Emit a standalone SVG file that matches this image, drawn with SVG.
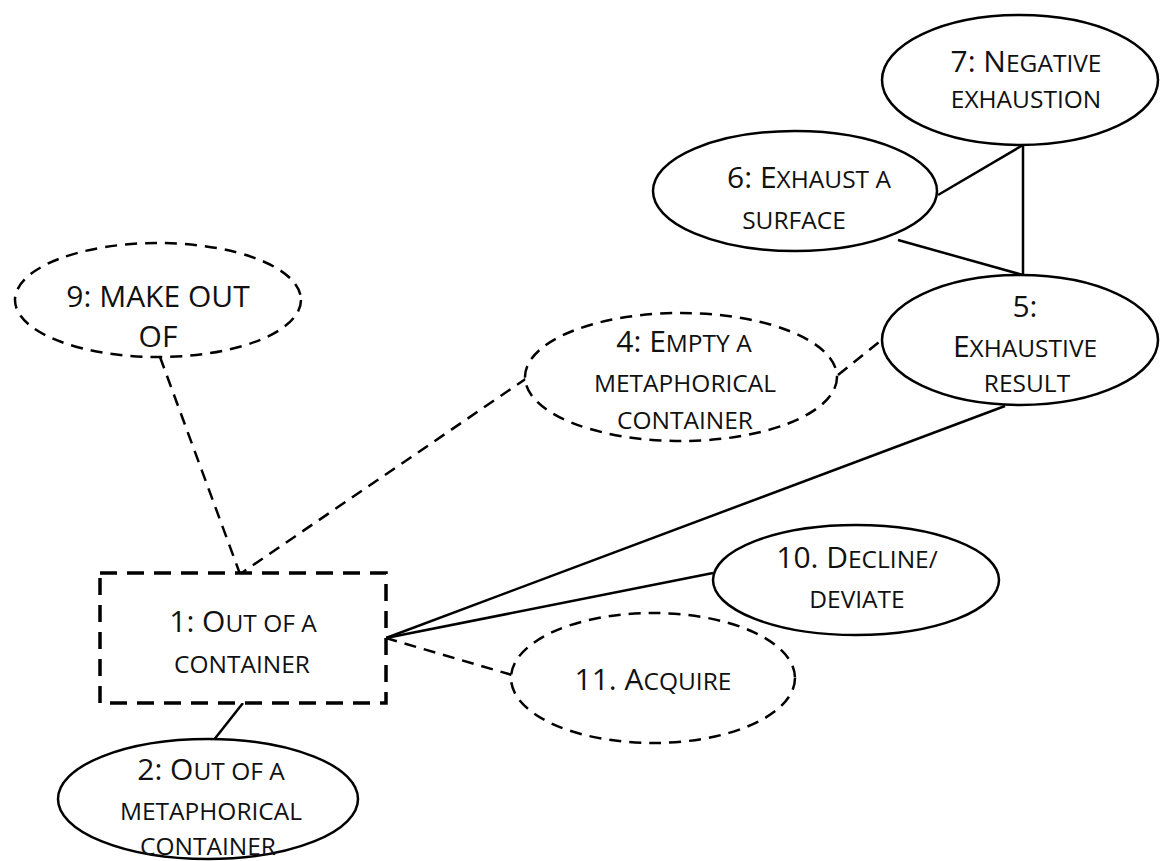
<svg xmlns="http://www.w3.org/2000/svg" width="1160" height="861" viewBox="0 0 1160 861">
<style>
.n{fill:#fff;stroke:#000;stroke-width:2.5}
.d{stroke-dasharray:12 8}
.r{fill:#fff;stroke:#000;stroke-width:3.5;stroke-dasharray:17 10}
.c{stroke:#000;stroke-width:2.5;fill:none}
.cd{stroke-dasharray:12 8}
text{font-family:"Open Sans","Liberation Sans",sans-serif;font-size:24.5px;fill:#111;text-anchor:middle}
.b{font-size:30px}
</style>
<rect width="1160" height="861" fill="#fff"/>
<g id="connectors">
<line class="c cd" x1="160" y1="357" x2="240" y2="574"/>
<line class="c cd" x1="527" y1="378" x2="240" y2="574"/>
<line class="c cd" x1="838" y1="375" x2="884" y2="338"/>
<line class="c" x1="1005" y1="406" x2="386" y2="638"/>
<line class="c" x1="713" y1="573" x2="386" y2="638"/>
<line class="c cd" x1="512" y1="675" x2="386" y2="638"/>
<line class="c" x1="243" y1="703" x2="213" y2="741"/>
<line class="c" x1="938" y1="195" x2="1023" y2="145"/>
<line class="c" x1="1023" y1="145" x2="1023" y2="275"/>
<line class="c" x1="898" y1="240" x2="1023" y2="275"/>
</g>
<g id="n7">
<ellipse class="n" cx="1020" cy="80" rx="138" ry="65"/>
<text x="1026" y="72"><tspan class="b">7: N</tspan>EGATIVE</text>
<text x="1026" y="108">EXHAUSTION</text>
</g>
<g id="n6">
<ellipse class="n" cx="795" cy="191" rx="142" ry="60"/>
<text x="809" y="188"><tspan class="b">6: E</tspan>XHAUST A</text>
<text x="794" y="229">SURFACE</text>
</g>
<g id="n5">
<ellipse class="n" cx="1020" cy="340" rx="138" ry="65"/>
<text x="1025" y="317" class="b">5:</text>
<text x="1025" y="357"><tspan class="b">E</tspan>XHAUSTIVE</text>
<text x="1027" y="392">RESULT</text>
</g>
<g id="n4">
<ellipse class="n d" cx="681" cy="377" rx="156" ry="64"/>
<text x="684" y="352"><tspan class="b">4: E</tspan>MPTY A</text>
<text x="685" y="392">METAPHORICAL</text>
<text x="685" y="429">CONTAINER</text>
</g>
<g id="n9">
<ellipse class="n d" cx="158" cy="300" rx="143" ry="57"/>
<text x="158" y="307" class="b">9: MAKE OUT</text>
<text x="158" y="347" class="b">OF</text>
</g>
<g id="n1">
<rect class="r" x="100" y="573" width="286" height="130"/>
<text x="243" y="632"><tspan class="b">1: O</tspan>UT OF A</text>
<text x="242" y="673">CONTAINER</text>
</g>
<g id="n2">
<ellipse class="n" cx="208" cy="799" rx="150" ry="60"/>
<text x="211" y="780"><tspan class="b">2: O</tspan>UT OF A</text>
<text x="211" y="820">METAPHORICAL</text>
<text x="208" y="855">CONTAINER</text>
</g>
<g id="n10">
<ellipse class="n" cx="856" cy="580" rx="143" ry="55"/>
<text x="857" y="568"><tspan class="b">10. D</tspan>ECLINE/</text>
<text x="857" y="608">DEVIATE</text>
</g>
<g id="n11">
<ellipse class="n d" cx="653" cy="678" rx="142" ry="65"/>
<text x="653" y="690"><tspan class="b">11. A</tspan>CQUIRE</text>
</g>
</svg>
